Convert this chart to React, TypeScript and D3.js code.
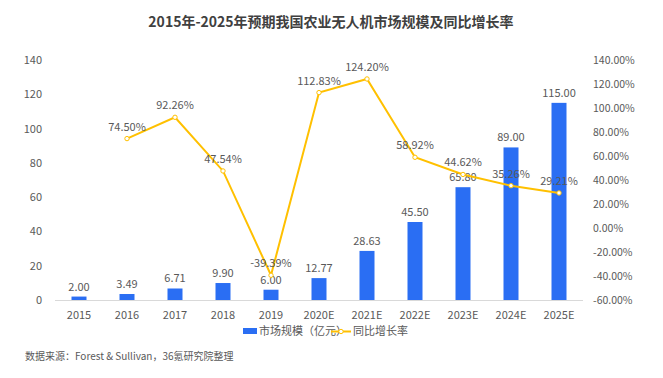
import React from "react";
import * as d3 from "d3";

const categories = ["2015", "2016", "2017", "2018", "2019", "2020E", "2021E", "2022E", "2023E", "2024E", "2025E"];
const marketSize = [2.0, 3.49, 6.71, 9.9, 6.0, 12.77, 28.63, 45.5, 65.8, 89.0, 115.0];
const growthRate: (number | null)[] = [null, 74.5, 92.26, 47.54, -39.39, 112.83, 124.2, 58.92, 44.62, 35.26, 29.21];
const leftTicks = [0, 20, 40, 60, 80, 100, 120, 140];
const rightTicks = [-60, -40, -20, 0, 20, 40, 60, 80, 100, 120, 140];

const W = 663;
const H = 378;
const BAR = "#2a6ef3";
const LINE = "#ffc000";
const TXT = "#595959";
const FONT = "'Microsoft YaHei','Noto Sans CJK SC','Noto Sans',sans-serif";

export default function App() {
  const x = d3.scaleBand<string>().domain(categories).range([55, 583]).paddingInner(0.69).paddingOuter(0.345);
  const bw = 15;
  const cx = (c: string) => (x(c) as number) + x.bandwidth() / 2;
  const yL = d3.scaleLinear().domain([0, 140]).range([300, 60]);
  const yR = d3.scaleLinear().domain([-60, 140]).range([300, 60]);

  const pts = categories
    .map((c, i) => ({ c, v: growthRate[i] }))
    .filter((d) => d.v !== null) as { c: string; v: number }[];
  const line = d3
    .line<{ c: string; v: number }>()
    .x((d) => cx(d.c))
    .y((d) => yR(d.v));

  return (
    <svg width={W} height={H} style={{ position: "absolute", left: 0, top: 0, background: "#fff" }} fontFamily={FONT}>
      <text x={331} y={27} textAnchor="middle" fontSize={14} fontWeight="bold" fill="#404040">
        2015年-2025年预期我国农业无人机市场规模及同比增长率
      </text>
      {leftTicks.map((t) => (
        <text key={"l" + t} x={42} y={yL(t) + 4} textAnchor="end" fontSize={11} fill={TXT}>
          {t}
        </text>
      ))}
      {rightTicks.map((t) => (
        <text key={"r" + t} x={593} y={yR(t) + 4} textAnchor="start" fontSize={10.5} fill={TXT}>
          {t.toFixed(2) + "%"}
        </text>
      ))}
      <line x1={55} x2={583} y1={300.5} y2={300.5} stroke="#d9d9d9" strokeWidth={1} />
      {categories.map((c, i) => (
        <g key={c}>
          <rect x={cx(c) - bw / 2} y={yL(marketSize[i])} width={bw} height={300 - yL(marketSize[i])} fill={BAR} />
          <text x={cx(c)} y={yL(marketSize[i]) - 6} textAnchor="middle" fontSize={11} fill={TXT}>
            {marketSize[i].toFixed(2)}
          </text>
          <text x={cx(c)} y={319} textAnchor="middle" fontSize={11} fill={TXT}>
            {c}
          </text>
        </g>
      ))}
      <path d={line(pts) || ""} fill="none" stroke={LINE} strokeWidth={2} />
      {pts.map((d) => (
        <g key={"p" + d.c}>
          <circle cx={cx(d.c)} cy={yR(d.v)} r={2.2} fill="#fff" stroke={LINE} strokeWidth={1} />
          <text x={cx(d.c)} y={yR(d.v) - 8} textAnchor="middle" fontSize={11} fill={TXT}>
            {d.v.toFixed(2) + "%"}
          </text>
        </g>
      ))}
      <rect x={243} y={328} width={14} height={6} fill={BAR} />
      <text x={259} y={335} fontSize={11} fill={TXT}>市场规模（亿元）</text>
      <line x1={331} x2={351} y1={331.5} y2={331.5} stroke={LINE} strokeWidth={2} />
      <circle cx={341} cy={331.5} r={2.2} fill="#fff" stroke={LINE} strokeWidth={1} />
      <text x={353} y={335} fontSize={11} fill={TXT}>同比增长率</text>
      <text x={25} y={360} fontSize={10} fill={TXT}>数据来源：Forest &amp; Sullivan，36氪研究院整理</text>
    </svg>
  );
}
